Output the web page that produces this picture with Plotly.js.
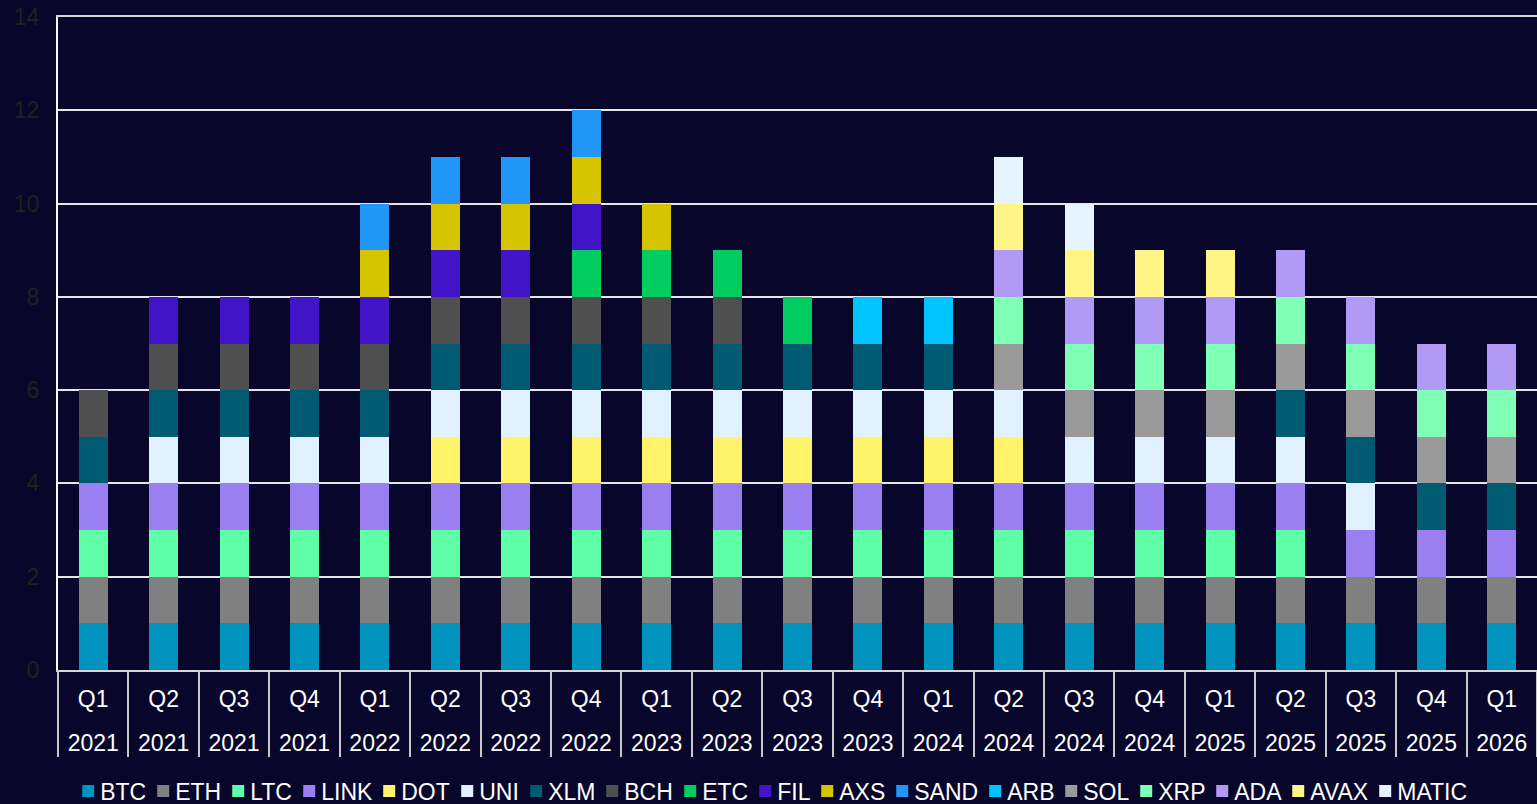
<!DOCTYPE html>
<html>
<head>
<meta charset="utf-8">
<script src="https://cdn.plot.ly/plotly-3.0.1.min.js"></script>
<style>
html,body{margin:0;padding:0;background:#08062a;}
#chart{width:1537px;height:804px;}
</style>
</head>
<body>
<div id="chart"></div>
<script>
// ---- data ----
var quarters = ["Q1","Q2","Q3","Q4","Q1","Q2","Q3","Q4","Q1","Q2","Q3","Q4","Q1","Q2","Q3","Q4","Q1","Q2","Q3","Q4","Q1"];
var years    = ["2021","2021","2021","2021","2022","2022","2022","2022","2023","2023","2023","2023","2024","2024","2024","2024","2025","2025","2025","2025","2026"];

var seriesNames = ["BTC","ETH","LTC","LINK","DOT","UNI","XLM","BCH","ETC","FIL","AXS","SAND","ARB","SOL","XRP","ADA","AVAX","MATIC"];

var BTC   = [1,1,1,1,1,1,1,1,1,1,1,1,1,1,1,1,1,1,1,1,1];
var ETH   = [1,1,1,1,1,1,1,1,1,1,1,1,1,1,1,1,1,1,1,1,1];
var LTC   = [1,1,1,1,1,1,1,1,1,1,1,1,1,1,1,1,1,1,0,0,0];
var LINK  = [1,1,1,1,1,1,1,1,1,1,1,1,1,1,1,1,1,1,1,1,1];
var DOT   = [0,0,0,0,0,1,1,1,1,1,1,1,1,1,0,0,0,0,0,0,0];
var UNI   = [0,1,1,1,1,1,1,1,1,1,1,1,1,1,1,1,1,1,1,0,0];
var XLM   = [1,1,1,1,1,1,1,1,1,1,1,1,1,0,0,0,0,1,1,1,1];
var BCH   = [1,1,1,1,1,1,1,1,1,1,0,0,0,0,0,0,0,0,0,0,0];
var ETC   = [0,0,0,0,0,0,0,1,1,1,1,0,0,0,0,0,0,0,0,0,0];
var FIL   = [0,1,1,1,1,1,1,1,0,0,0,0,0,0,0,0,0,0,0,0,0];
var AXS   = [0,0,0,0,1,1,1,1,1,0,0,0,0,0,0,0,0,0,0,0,0];
var SAND  = [0,0,0,0,1,1,1,1,0,0,0,0,0,0,0,0,0,0,0,0,0];
var ARB   = [0,0,0,0,0,0,0,0,0,0,0,1,1,0,0,0,0,0,0,0,0];
var SOL   = [0,0,0,0,0,0,0,0,0,0,0,0,0,1,1,1,1,1,1,1,1];
var XRP   = [0,0,0,0,0,0,0,0,0,0,0,0,0,1,1,1,1,1,1,1,1];
var ADA   = [0,0,0,0,0,0,0,0,0,0,0,0,0,1,1,1,1,1,1,1,1];
var AVAX  = [0,0,0,0,0,0,0,0,0,0,0,0,0,1,1,1,1,0,0,0,0];
var MATIC = [0,0,0,0,0,0,0,0,0,0,0,0,0,1,1,0,0,0,0,0,0];

var seriesValues = [BTC,ETH,LTC,LINK,DOT,UNI,XLM,BCH,ETC,FIL,AXS,SAND,ARB,SOL,XRP,ADA,AVAX,MATIC];

var seriesColors = ["#0093be","#808080","#5effa7","#9a7ff0","#fff36b","#e1f1ff","#005a72","#4f4f4f","#00cc60",
                    "#4114c8","#d7c400","#2196f8","#00c3ff","#9a9a9a","#80ffb7","#b09af5","#fff587","#e6f4ff"];

var yTicks = [0,2,4,6,8,10,12,14];

// ---- build ----
var FONT = '"Liberation Sans", Arial, sans-serif';
var LEG_SIZE = 23;
var cats = quarters.map(function(q,i){ return q + " " + years[i]; });
var idx = quarters.map(function(q,i){ return i; });
var bounds = [];
for (var b = 0; b <= quarters.length; b++) bounds.push(b - 0.5);

var cv = document.createElement('canvas').getContext('2d');
cv.font = LEG_SIZE + 'px ' + FONT;

var traces = seriesNames.map(function(name, k){
  var w = cv.measureText(name).width;
  var t = {
    type: 'bar',
    name: name,
    x: cats,
    y: seriesValues[k],
    marker: {color: seriesColors[k], line: {width: 0}},
    hoverinfo: 'x+y+name'
  };
  if (k < seriesNames.length - 1) t.legendwidth = Math.max(10, Math.round(w - 16));
  return t;
});

// helper (empty) traces so the year-label axis and divider axis get drawn
var emptyY = idx.map(function(){ return null; });
traces.push({type: 'scatter', mode: 'markers', x: idx, y: emptyY, xaxis: 'x2', yaxis: 'y',
             showlegend: false, hoverinfo: 'skip'});
traces.push({type: 'scatter', mode: 'markers', x: idx, y: emptyY, xaxis: 'x3', yaxis: 'y',
             showlegend: false, hoverinfo: 'skip'});

var xr = [-0.5, quarters.length - 0.5];

var layout = {
  width: 1537, height: 804,
  paper_bgcolor: '#08062a',
  plot_bgcolor: '#08062a',
  barmode: 'stack',
  bargap: 0.59,
  font: {family: FONT, color: '#ffffff', size: 23},
  margin: {l: 58, r: 0, t: 17, b: 134, autoexpand: false},
  showlegend: true,
  legend: {
    orientation: 'h',
    x: 0.0015, xanchor: 'left',
    y: -0.1853, yanchor: 'middle',
    font: {family: FONT, size: LEG_SIZE, color: '#ffffff'},
    bgcolor: 'rgba(0,0,0,0)',
    traceorder: 'normal'
  },
  xaxis: {
    type: 'category',
    categoryorder: 'array', categoryarray: cats,
    range: xr,
    tickvals: cats, ticktext: quarters,
    ticks: '',
    showgrid: false,
    showline: true, linecolor: '#c8c8c8', linewidth: 2,
    tickfont: {family: FONT, size: 23, color: '#ffffff'},
    ticklabelstandoff: 7,
    zeroline: false,
    fixedrange: true
  },
  xaxis2: {
    type: 'linear',
    overlaying: 'x', anchor: 'y', side: 'bottom',
    range: xr,
    tickmode: 'array', tickvals: idx, ticktext: years,
    ticks: '',
    showgrid: false, zeroline: false,
    showline: true, mirror: true, linecolor: '#d6d6d6', linewidth: 2,
    tickfont: {family: FONT, size: 23, color: '#ffffff'},
    ticklabelstandoff: 51,
    fixedrange: true
  },
  xaxis3: {
    type: 'linear',
    overlaying: 'x', anchor: 'y', side: 'bottom',
    range: xr,
    tickmode: 'array', tickvals: bounds,
    ticks: 'outside', ticklen: 86, tickwidth: 2, tickcolor: '#c8c8c8',
    showticklabels: false,
    showgrid: false, zeroline: false, showline: false,
    fixedrange: true
  },
  yaxis: {
    range: [0, 14],
    tickmode: 'array', tickvals: yTicks,
    showgrid: true, gridcolor: '#e6e6e6', gridwidth: 2,
    showline: true, linecolor: '#ffffff', linewidth: 2,
    zeroline: false,
    ticks: '',
    tickfont: {family: FONT, size: 23, color: '#221f1f'},
    ticklabelstandoff: 12,
    fixedrange: true
  }
};

Plotly.newPlot('chart', traces, layout, {displayModeBar: false, staticPlot: true}).then(function(gd){
  // move each legend swatch next to its own label (styling only)
  var pts = gd.querySelectorAll('.legend .traces .legendpoints');
  pts.forEach(function(g){ g.setAttribute('transform', 'translate(8,0)'); });
});
</script>
</body>
</html>
